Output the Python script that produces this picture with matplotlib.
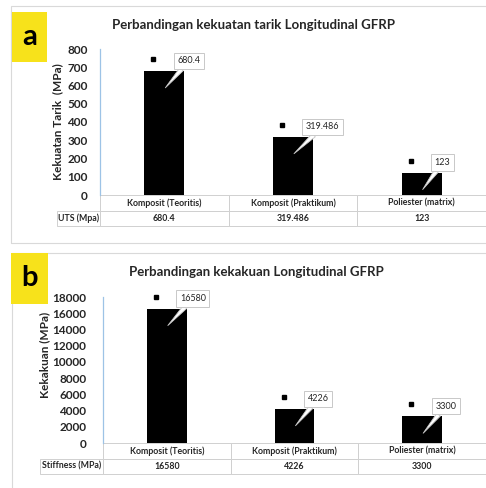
import matplotlib.pyplot as plt
from matplotlib.patches import Rectangle
from matplotlib.transforms import offset_copy

plt.rcParams['font.family'] = ['Lato', 'DejaVu Sans']

categories = ['Komposit (Teoritis)', 'Komposit (Praktikum)', 'Poliester (matrix)']
uts = [680.4, 319.486, 123]
uts_labels = ['680.4', '319.486', '123']
stiffness = [16580, 4226, 3300]
stiffness_labels = ['16580', '4226', '3300']

W, H = 486, 488
fig = plt.figure(figsize=(W / 100, H / 100), dpi=100)
fig.patch.set_facecolor('white')


def box(x0, y0, x1, y1):
    # pixel box (top-left origin) -> figure fraction rect
    return [x0 / W, 1 - y1 / H, (x1 - x0) / W, (y1 - y0) / H]


def panel(ax_px, tab_left, values, labels, row_label, ylabel, ylab_xy, title, title_xy,
          ylim, yticks, letter, letter_px, border_px, ypad):
    # panel frame
    bx = box(*border_px)
    fig.patches.append(Rectangle((bx[0], bx[1]), bx[2], bx[3], transform=fig.transFigure,
                                 fill=False, ec='#d9d9d9', lw=0.8))
    # yellow letter tag
    lb = box(*letter_px)
    fig.patches.append(Rectangle((lb[0], lb[1]), lb[2], lb[3], transform=fig.transFigure,
                                 fc='#f7e21b', ec='none'))
    fig.text(lb[0] + lb[2] / 2, lb[1] + lb[3] / 2, letter, ha='center', va='center',
             fontsize=21, fontweight='bold', color='black')
    fig.text(title_xy[0] / W, 1 - title_xy[1] / H, title, ha='center', va='center',
             fontsize=9.5, fontweight='bold', color='#262626')

    ax = fig.add_axes(box(*ax_px))
    x = list(range(len(values)))
    ax.bar(x, values, width=0.31, color='black')
    ax.set_xlim(-0.5, len(values) - 0.5)
    ax.set_ylim(*ylim)
    ax.set_yticks(yticks)
    ax.set_xticks([])
    ax.tick_params(axis='y', length=0, pad=ypad, labelsize=8.5, labelcolor='#262626')
    for t in ax.get_yticklabels():
        t.set_fontweight('bold')
    for s in ['top', 'right', 'bottom']:
        ax.spines[s].set_visible(False)
    ax.spines['left'].set_color('#9dc3e6')
    ax.spines['left'].set_linewidth(0.9)
    ax.set_ylabel(ylabel, fontsize=8.5, fontweight='bold', color='#262626')
    ax.yaxis.set_label_coords(*ylab_xy)

    # marker series and callout labels
    mk = offset_copy(ax.transData, fig=fig, x=-11, y=12, units='dots')
    ax.plot(x, values, 's', color='black', markersize=3.5, transform=mk, clip_on=False)
    tip = offset_copy(ax.transData, fig=fig, x=1, y=-17, units='dots')
    for xi, v, lab in zip(x, values, labels):
        ax.annotate(lab, xy=(xi, v), xycoords=tip, xytext=(12, 27), textcoords='offset pixels',
                    ha='left', va='center', fontsize=6.5, color='#262626',
                    bbox=dict(boxstyle='square,pad=0.4', fc='white', ec='#c8c8c8', lw=0.7),
                    arrowprops=dict(arrowstyle='wedge,tail_width=0.5,shrink_factor=0.5',
                                    fc='white', ec='#c8c8c8', lw=0.6, shrinkA=0, shrinkB=0))

    # data table under the axis
    x0, y0, x1, y1 = ax_px
    aw, ah = x1 - x0, y1 - y0
    row_h = 15.5
    first = x0 - tab_left
    rest = (x1 - x0) / len(values)
    tw = x1 - tab_left
    tab = ax.table(cellText=[[row_label] + [str(l) for l in labels]],
                   colLabels=[''] + categories,
                   colWidths=[first / tw] + [rest / tw] * len(values),
                   cellLoc='center',
                   bbox=[(tab_left - x0) / aw, -2 * row_h / ah, tw / aw, 2 * row_h / ah])
    tab.auto_set_font_size(False)
    for (r, c), cell in tab.get_celld().items():
        cell.set_edgecolor('#d0d0d0')
        cell.set_linewidth(0.7)
        cell.get_text().set_fontsize(6.3)
        cell.get_text().set_color('#262626')
        cell.get_text().set_fontweight('bold')
        if r == 0 and c == 0:
            cell.visible_edges = 'open'
    return ax


panel((100, 49, 486, 195), 57, uts, uts_labels, 'UTS (Mpa)', 'Kekuatan Tarik  (MPa)',
      (-0.096, 0.5), 'Perbandingan kekuatan tarik Longitudinal GFRP', (253, 25),
      (0, 800), range(0, 801, 100), 'a', (12, 12, 47, 62), (11, 6, 492, 243), 9)

panel((103, 297, 486, 443), 40, stiffness, stiffness_labels, 'Stiffness (MPa)', 'Kekakuan (MPa)',
      (-0.138, 0.6), 'Perbandingan kekakuan Longitudinal GFRP', (256, 272),
      (0, 18000), range(0, 18001, 2000), 'b', (11, 253, 48, 304), (12, 253, 492, 492), 12)

fig.savefig('out.png', dpi=100)
